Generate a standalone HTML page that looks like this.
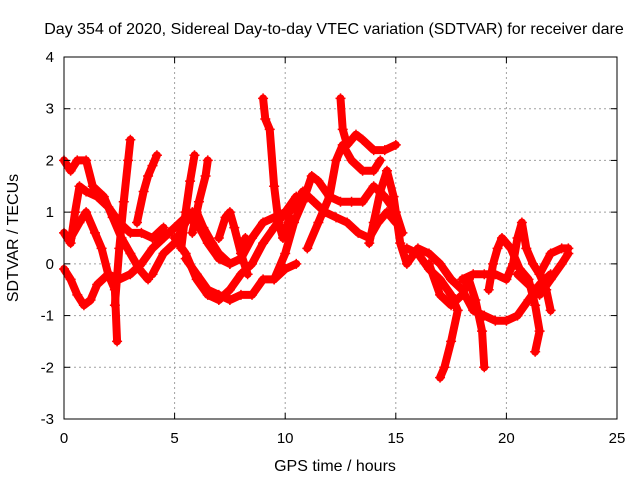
<!DOCTYPE html>
<html><head><meta charset="utf-8"><style>
body{margin:0;background:#fff;font-family:"Liberation Sans",sans-serif}
svg text{font-family:"Liberation Sans",sans-serif;font-size:15px;fill:#000}
svg text.big{font-size:16px}
</style></head><body>
<svg id="chart" width="640" height="480" viewBox="0 0 640 480">
<text class="big" x="334" y="34" text-anchor="middle">Day 354 of 2020, Sidereal Day-to-day VTEC variation (SDTVAR) for receiver dare</text>
<text class="big" x="335" y="471" text-anchor="middle">GPS time / hours</text>
<text class="big" transform="translate(18,238) rotate(-90)" text-anchor="middle">SDTVAR / TECUs</text>
<g id="grid"></g>
<g id="series"></g>
<rect x="64" y="57" width="553" height="362" fill="none" stroke="#000" stroke-width="1"/>
<g id="ticks"></g>
</svg>
<script>
const xTicks=[0,5,10,15,20,25];
const yTicks=[-3,-2,-1,0,1,2,3,4];
const trackA=[[0,2.0],[0.3,1.8],[0.6,2.0],[1.0,2.0],[1.3,1.5],[1.8,1.3],[2.2,0.9],[2.6,0.5],[3.0,0.2],[3.4,-0.1],[3.8,-0.3]];
const trackB=[[0,0.6],[0.3,0.4],[0.5,1.0],[0.7,1.5],[1.0,1.4],[1.5,1.3],[2.0,1.1],[2.5,0.8],[3.0,0.6],[3.5,0.6],[4,0.5],[4.5,0.7]];
const trackC=[[0,-0.1],[0.3,-0.3],[0.6,-0.6],[0.9,-0.8],[1.2,-0.7],[1.5,-0.4],[2,-0.2],[2.5,-0.3],[3,-0.2],[3.5,0],[4,0.3],[4.5,0.5],[5,0.7],[5.5,0.9],[6,0.8],[6.5,0.4],[7,0.1],[7.5,0],[8,0.1],[8.5,0.5],[9,0.8],[9.5,0.9],[10,1.0]];
const trackD=[[0.3,0.5],[0.7,0.8],[1.0,1.0],[1.4,0.6],[1.7,0.3],[2.0,-0.2],[2.3,-0.5],[2.4,-1.5]];
const trackE=[[2.3,-0.8],[2.5,0.3],[2.7,1.2],[2.9,2.0],[3.0,2.4]];
const trackF=[[3.3,0.8],[3.6,1.4],[3.8,1.7],[4,1.9],[4.2,2.1]];
const trackG=[[4.0,-0.2],[4.5,0.2],[5.0,0.4],[5.5,0.8],[5.8,1.0],[6.0,1.0],[6.3,0.7],[6.7,0.4],[7,0.2],[7.5,0],[8,0.1],[8.2,0.5]];
const trackH=[[5.3,0.3],[5.5,1.0],[5.7,1.6],[5.9,2.1]];
const trackI=[[5.8,0.6],[6.1,1.2],[6.4,1.7],[6.5,2.0]];
const trackJ=[[5.5,0.1],[6,-0.2],[6.5,-0.5],[7,-0.6],[7.5,-0.7],[8,-0.6],[8.5,-0.6],[9,-0.3],[9.5,-0.3],[10,-0.1],[10.5,0]];
const trackK=[[5,0.5],[5.5,0.2],[6,-0.3],[6.5,-0.6],[7,-0.7],[7.5,-0.5],[8,-0.2],[8.5,0.0],[9,0.4],[9.5,0.7],[10,1.0],[10.5,1.3]];
const trackL=[[9.0,3.2],[9.1,2.8],[9.3,2.6],[9.5,1.5],[9.7,0.8],[9.9,0.5],[10.2,0.9]];
const trackM=[[7,0.5],[7.3,0.9],[7.5,1.0],[7.7,0.7],[8,0.2],[8.3,-0.2]];
const trackN=[[9.5,-0.3],[10,0.2],[10.4,0.8],[10.8,1.2],[11.2,1.7],[11.5,1.6],[12,1.3],[12.5,1.2],[13,1.2],[13.5,1.2],[14,1.5],[14.5,1.3],[15,1.0],[15.3,0.6]];
const trackO=[[12.5,3.2],[12.6,2.6],[12.8,2.3],[13.2,2.5],[13.5,2.4],[14,2.2],[14.5,2.2],[15,2.3]];
const trackP=[[10.2,1.0],[10.8,1.4],[11.3,1.2],[11.8,1.0],[12.3,0.9],[12.8,0.8],[13.3,0.6],[13.8,0.5],[14.2,0.8],[14.6,1.0],[15,0.8]];
const trackQ=[[11,0.3],[11.5,0.8],[12,1.3],[12.3,2.0],[12.6,2.3],[13,2.0],[13.5,1.8],[14,1.8],[14.3,2.0]];
const trackR=[[13.8,0.4],[14.0,0.8],[14.3,1.4],[14.6,1.8],[14.9,1.3],[15.2,0.4],[15.5,0.0],[16,0.3],[16.5,0.2],[17,0],[17.5,-0.3],[18,-0.5],[18.5,-0.9],[19,-1.0],[19.5,-1.1],[20,-1.1],[20.5,-1.0],[21,-0.7],[21.5,-0.4],[22,-0.2]];
const trackS=[[15.5,0.3],[16,0.2],[16.5,-0.1],[17,-0.3],[17.5,-0.6],[17.8,-0.9],[17.5,-1.5],[17.2,-2.0],[17.0,-2.2]];
const trackT=[[16.5,0.0],[17,-0.6],[17.5,-0.8],[18,-0.6],[18.3,-0.3],[18.6,-0.7],[18.9,-1.3],[19.0,-2.0]];
const trackU=[[18,-0.3],[18.5,-0.2],[19,-0.2],[19.5,-0.2],[20,-0.3],[20.3,0],[20.5,0.5],[20.7,0.8],[20.9,0.3],[21.2,0],[21.5,-0.2],[21.8,-0.5],[22,-0.9]];
const trackV=[[19.2,-0.5],[19.4,0],[19.6,0.3],[19.8,0.5],[20.2,0.3],[20.6,-0.1],[21,-0.3],[21.3,-0.8],[21.5,-1.3],[21.3,-1.7]];
const trackW=[[21.5,-0.2],[22,0.2],[22.5,0.3],[22.8,0.3]];
const trackX=[[20.5,-0.2],[21,-0.4],[21.5,-0.6],[22,-0.3],[22.5,0],[22.8,0.2]];
const tracks=[trackA,trackB,trackC,trackD,trackE,trackF,trackG,trackH,trackI,trackJ,trackK,trackL,trackM,trackN,trackO,trackP,trackQ,trackR,trackS,trackT,trackU,trackV,trackW,trackX];

const NS="http://www.w3.org/2000/svg";
const X0=64,X1=617,Y0=419,Y1=57,XMIN=0,XMAX=25,YMIN=-3,YMAX=4;
const sx=v=>X0+(v-XMIN)/(XMAX-XMIN)*(X1-X0);
const sy=v=>Y0-(v-YMIN)/(YMAX-YMIN)*(Y0-Y1);
const grid=document.getElementById('grid'),ticks=document.getElementById('ticks'),series=document.getElementById('series');
function mk(tag,attrs,parent){const e=document.createElementNS(NS,tag);for(const k in attrs)e.setAttribute(k,attrs[k]);parent.appendChild(e);return e;}
xTicks.forEach(t=>{
  const x=sx(t);
  if(t>XMIN&&t<XMAX){const g=mk('line',{x1:x,x2:x,y1:Y1,y2:Y0,stroke:'#a0a0a0','stroke-dasharray':'2,3'},grid);
  
  }
  const l=mk('text',{x:x,y:Y0+24,'text-anchor':'middle'},ticks);l.textContent=t;
  
  
  mk('line',{x1:x,x2:x,y1:Y0,y2:Y0-6,stroke:'#000'},ticks);
  mk('line',{x1:x,x2:x,y1:Y1,y2:Y1+6,stroke:'#000'},ticks);
});
yTicks.forEach(t=>{
  const y=sy(t);
  if(t>YMIN&&t<YMAX){const g=mk('line',{x1:X0,x2:X1,y1:y,y2:y,stroke:'#a0a0a0','stroke-dasharray':'2,3'},grid);
  
  }
  const l=mk('text',{x:X0-10,y:y+5,'text-anchor':'end'},ticks);l.textContent=t;
  
  
  mk('line',{x1:X0,x2:X0+6,y1:y,y2:y,stroke:'#000'},ticks);
  mk('line',{x1:X1,x2:X1-6,y1:y,y2:y,stroke:'#000'},ticks);
});
tracks.forEach(tr=>{
  const pts=tr.map(p=>sx(p[0])+','+sy(p[1])).join(' ');
  const pl=mk('polyline',{points:pts,fill:'none',stroke:'#ff0000','stroke-width':8,'stroke-linejoin':'round','stroke-linecap':'round'},series);
  
  
  tr.forEach(p=>{
    const x=sx(p[0]),y=sy(p[1]);
    const m=mk('path',{d:`M${x-5},${y}H${x+5}M${x},${y-5}V${y+5}`,stroke:'#ff0000','stroke-width':1.5},series);
    
    
  });
});
</script>
</body></html>
